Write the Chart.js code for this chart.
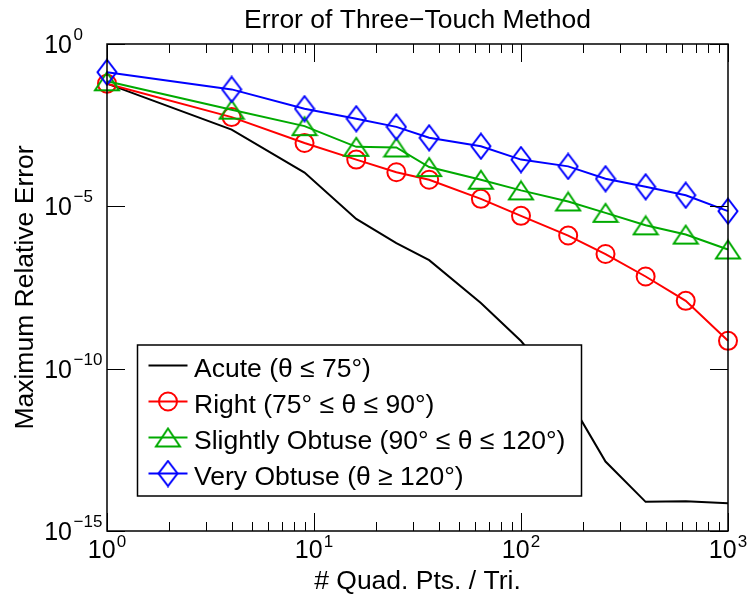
<!DOCTYPE html>
<html>
<head>
<meta charset="utf-8">
<script src="https://cdn.jsdelivr.net/npm/chart.js@4.4.1/dist/chart.umd.min.js"></script>
<style>
  html, body { margin: 0; padding: 0; background: #fff; }
  #wrap { width: 750px; height: 600px; }
</style>
</head>
<body>
<div id="wrap"><canvas id="errChart" width="750" height="600"></canvas></div>
<script>
// ---- data ----
const quadPts = [1, 4, 9, 16, 25, 36, 64, 100, 169, 256, 400, 625, 1000];

const acuteErr = [6.0e-2, 2.3e-3, 1.1e-4, 4.1e-6, 7.4e-7, 2.2e-7, 1.05e-8, 7.1e-10, 1.26e-11, 1.38e-13, 7.9e-15, 8.3e-15, 7.2e-15];
const rightErr = [6.0e-2, 5.6e-3, 8.9e-4, 2.75e-4, 1.12e-4, 6.6e-5, 1.7e-5, 5.1e-6, 1.26e-6, 3.4e-7, 6.9e-8, 1.23e-8, 7.2e-10];
const slightErr = [7.1e-2, 9.5e-3, 2.95e-3, 6.8e-4, 6.5e-4, 1.62e-4, 6.6e-5, 3.1e-5, 1.41e-5, 6.3e-6, 2.6e-6, 1.35e-6, 4.7e-7];
const veryErr = [0.135, 4.0e-2, 1.02e-2, 5.0e-3, 2.8e-3, 1.29e-3, 7.1e-4, 2.75e-4, 1.7e-4, 7.1e-5, 4.0e-5, 2.2e-5, 7.1e-6];

const seriesLabels = [
  "Acute (\u03B8 \u2264 75\u00B0)",
  "Right (75\u00B0 \u2264 \u03B8 \u2264 90\u00B0)",
  "Slightly Obtuse (90\u00B0 \u2264 \u03B8 \u2264 120\u00B0)",
  "Very Obtuse (\u03B8 \u2265 120\u00B0)"
];

// tick values / labels
const xMajorTicks = [1, 10, 100, 1000];
const xTickExp = ["0", "1", "2", "3"];
const yMajorTicks = [1, 1e-5, 1e-10, 1e-15];
const yTickExp = ["0", "\u22125", "\u221210", "\u221215"];

const titleText = "Error of Three\u2212Touch Method";
const xTitle = "# Quad. Pts. / Tri.";
const yTitle = "Maximum Relative Error";

const FONT = '"Liberation Sans", Arial, Helvetica, sans-serif';
const GREEN = "#00aa00";

// =========================
// marker images (MATLAB-like hollow markers)
// =========================
function makeTriangle(color) {
  const c = document.createElement("canvas");
  c.width = 28; c.height = 22;
  const g = c.getContext("2d");
  g.strokeStyle = color; g.lineWidth = 2; g.lineJoin = "miter";
  g.beginPath();
  g.moveTo(14, 2);
  g.lineTo(26, 20);
  g.lineTo(2, 20);
  g.closePath();
  g.stroke();
  return c;
}
function makeDiamond(color) {
  const c = document.createElement("canvas");
  c.width = 22; c.height = 28;
  const g = c.getContext("2d");
  g.strokeStyle = color; g.lineWidth = 2;
  g.beginPath();
  g.moveTo(11, 1.5);
  g.lineTo(20.5, 14);
  g.lineTo(11, 26.5);
  g.lineTo(1.5, 14);
  g.closePath();
  g.stroke();
  return c;
}
const triImg = makeTriangle(GREEN);
const diaImg = makeDiamond("#0000ff");

function pts(ys) {
  return quadPts.map((x, i) => ({ x: x, y: ys[i] }));
}

// =========================
// axes, labels and legend drawn around the chart area
// =========================
const framePlugin = {
  id: "frame",
  beforeDraw(chart) {
    const ctx = chart.ctx;
    ctx.save();
    ctx.fillStyle = "#fff";
    ctx.fillRect(0, 0, chart.width, chart.height);
    ctx.restore();
  },
  afterDatasetsDraw(chart) {
    const ctx = chart.ctx;
    const ca = chart.chartArea;
    const xs = chart.scales.x, ys = chart.scales.y;
    ctx.save();

    // box
    ctx.strokeStyle = "#000";
    ctx.lineWidth = 1.5;
    ctx.strokeRect(ca.left, ca.top, ca.right - ca.left, ca.bottom - ca.top);

    // x ticks (major + minor), bottom and top, pointing inward
    ctx.lineWidth = 1;
    ctx.beginPath();
    for (let d = 0; d < xMajorTicks.length; d++) {
      const base = xMajorTicks[d];
      const px = Math.round(xs.getPixelForValue(base)) + 0.5;
      ctx.moveTo(px, ca.bottom); ctx.lineTo(px, ca.bottom - 18);
      ctx.moveTo(px, ca.top); ctx.lineTo(px, ca.top + 18);
      if (d < xMajorTicks.length - 1) {
        for (let m = 2; m <= 9; m++) {
          const mx = Math.round(xs.getPixelForValue(base * m)) + 0.5;
          ctx.moveTo(mx, ca.bottom); ctx.lineTo(mx, ca.bottom - 9);
          ctx.moveTo(mx, ca.top); ctx.lineTo(mx, ca.top + 9);
        }
      }
    }
    // y ticks, left and right
    yMajorTicks.forEach(v => {
      const py = Math.round(ys.getPixelForValue(v)) + 0.5;
      ctx.moveTo(ca.left, py); ctx.lineTo(ca.left + 18, py);
      ctx.moveTo(ca.right, py); ctx.lineTo(ca.right - 18, py);
    });
    ctx.stroke();

    // tick labels 10^n
    ctx.fillStyle = "#000";
    ctx.textBaseline = "alphabetic";
    const baseFont = "25px " + FONT, expFont = "17px " + FONT;
    xMajorTicks.forEach((v, i) => {
      const px = xs.getPixelForValue(v);
      ctx.font = baseFont;
      const wb = ctx.measureText("10").width;
      ctx.font = expFont;
      const we = ctx.measureText(xTickExp[i]).width;
      const x0 = px - (wb + 1 + we) / 2;
      ctx.textAlign = "left";
      ctx.font = baseFont;
      ctx.fillText("10", x0, ca.bottom + 27);
      ctx.font = expFont;
      ctx.fillText(xTickExp[i], x0 + wb + 1, ca.bottom + 16);
    });
    yMajorTicks.forEach((v, i) => {
      const py = ys.getPixelForValue(v);
      ctx.textAlign = "right";
      ctx.font = baseFont;
      ctx.fillText("10", 72, py + 9);
      ctx.textAlign = "left";
      ctx.font = expFont;
      ctx.fillText(yTickExp[i], 73.5, py - 4);
    });

    // titles
    ctx.font = "26.5px " + FONT;
    ctx.textAlign = "center";
    ctx.fillText(titleText, (ca.left + ca.right) / 2, 28);
    ctx.fillText(xTitle, (ca.left + ca.right) / 2, 589);
    ctx.save();
    ctx.translate(33, (ca.top + ca.bottom) / 2);
    ctx.rotate(-Math.PI / 2);
    ctx.fillText(yTitle, 0, 0);
    ctx.restore();

    // legend box
    const lx = ca.left + 30.5, ly = ca.top + 301;
    const lw = 444, lh = 151;
    ctx.fillStyle = "#fff";
    ctx.fillRect(lx, ly, lw, lh);
    ctx.strokeStyle = "#000";
    ctx.lineWidth = 1.5;
    ctx.strokeRect(lx, ly, lw, lh);

    chart.data.datasets.forEach((ds, i) => {
      const rowY = ly + 20.5 + i * 36;
      ctx.strokeStyle = ds.borderColor;
      ctx.lineWidth = 2;
      ctx.beginPath();
      ctx.moveTo(lx + 11, rowY);
      ctx.lineTo(lx + 50, rowY);
      ctx.stroke();
      const mx = lx + 30.5;
      if (ds.pointStyle === "circle") {
        ctx.beginPath();
        ctx.arc(mx, rowY, 9, 0, Math.PI * 2);
        ctx.stroke();
      } else if (ds.pointStyle && ds.pointStyle.width) {
        const img = ds.pointStyle;
        ctx.drawImage(img, mx - img.width / 2, rowY - img.height / 2);
      }
      ctx.fillStyle = "#000";
      ctx.textAlign = "left";
      ctx.font = "26.5px " + FONT;
      ctx.fillText(ds.label, lx + 56.5, rowY + 11.5);
    });

    ctx.restore();
  }
};

Chart.defaults.font.family = FONT;

new Chart(document.getElementById("errChart"), {
  type: "scatter",
  data: {
    datasets: [
      {
        label: seriesLabels[0],
        data: pts(acuteErr),
        showLine: true,
        borderColor: "#000000",
        borderWidth: 2,
        pointRadius: 0,
        pointStyle: false,
        order: 4,
        clip: false
      },
      {
        label: seriesLabels[1],
        data: pts(rightErr),
        showLine: true,
        borderColor: "#ff0000",
        borderWidth: 2,
        pointStyle: "circle",
        pointRadius: 9,
        pointBorderWidth: 2,
        pointBackgroundColor: "rgba(0,0,0,0)",
        pointBorderColor: "#ff0000",
        order: 3,
        clip: false
      },
      {
        label: seriesLabels[2],
        data: pts(slightErr),
        showLine: true,
        borderColor: GREEN,
        borderWidth: 2,
        pointStyle: triImg,
        pointRadius: 12,
        order: 2,
        clip: false
      },
      {
        label: seriesLabels[3],
        data: pts(veryErr),
        showLine: true,
        borderColor: "#0000ff",
        borderWidth: 2,
        pointStyle: diaImg,
        pointRadius: 12,
        order: 1,
        clip: false
      }
    ]
  },
  options: {
    responsive: false,
    animation: false,
    layout: { padding: { left: 107, top: 44, right: 22, bottom: 69 } },
    plugins: {
      legend: { display: false },
      tooltip: { enabled: false },
      title: { display: false }
    },
    scales: {
      x: { type: "logarithmic", min: 1, max: 1000, display: false },
      y: { type: "logarithmic", min: 1e-15, max: 1, display: false }
    }
  },
  plugins: [framePlugin]
});
</script>
</body>
</html>
